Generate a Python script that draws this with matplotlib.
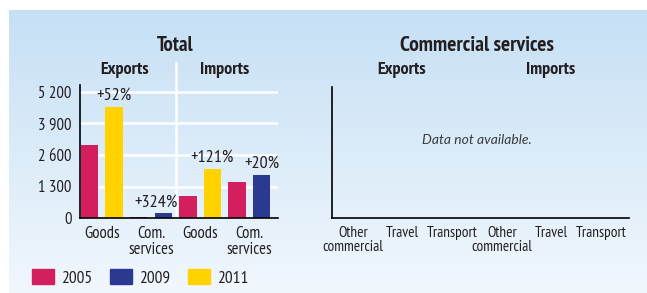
import numpy as np
import matplotlib
matplotlib.use("Agg")
from matplotlib import pyplot as plt
from matplotlib.patches import Patch

plt.rcParams['font.family'] = ['PT Sans Narrow', 'DejaVu Sans']

# data
groups = ['Goods', 'Com.\nservices', 'Goods', 'Com.\nservices']
first_year = ['2005', '2005', '2005', '2005']
second_year = ['2011', '2009', '2011', '2009']
first_vals = [3000, 45, 920, 1490]
second_vals = [4600, 190, 2030, 1790]
change_labels = ['+52%', '+324%', '+121%', '+20%']
y_ticks = [0, 1300, 2600, 3900, 5200]
y_tick_labels = ['0', '1 300', '2 600', '3 900', '5 200']
cs_categories = ['Other\ncommercial', 'Travel', 'Transport',
                 'Other\ncommercial', 'Travel', 'Transport']

year_colors = {'2005': '#d31f5e', '2009': '#2b3990', '2011': '#ffd200'}
txt = '#231f20'

W, H = 647, 293
fig = plt.figure(figsize=(W / 100, H / 100), dpi=100)


def fx(px): return px / W
def fy(py): return 1 - py / H


# background gradient panel
bg = fig.add_axes([fx(9), 0, fx(W - 9), fy(10)], zorder=-10)
grad = np.linspace(0, 1, 256)[:, None]
top = np.array([0.776, 0.878, 0.961])
bot = np.array([0.945, 0.969, 0.992])
img = top[None, None, :] * (1 - grad[..., None]) + bot[None, None, :] * grad[..., None]
bg.imshow(img, aspect='auto', extent=[0, 1, 0, 1])
bg.axis('off')

# ---------------- Total panel ----------------
ax = fig.add_axes([fx(80), fy(218), fx(278 - 80), fy(85) - fy(218)])
ax.patch.set_alpha(0)
pitch = 24.6
ymax = 5200 * (218 - 85) / 126
ax.set_ylim(0, ymax)
ax.set_xlim(-9.5 / pitch, -9.5 / pitch + 198 / pitch)
w = 17.5 / pitch
for i in range(4):
    x1, x2 = 2 * i, 2 * i + 1
    ax.bar(x1, first_vals[i], width=w, color=year_colors[first_year[i]], zorder=3)
    ax.bar(x2, second_vals[i], width=w, color=year_colors[second_year[i]], zorder=3)
    dx = -5 if i == 1 else 0
    ax.annotate(change_labels[i], (x2, max(first_vals[i], second_vals[i])),
                xytext=(dx, 2), textcoords='offset points', ha='center',
                va='bottom', fontsize=13, color=txt)
for t in y_ticks[1:]:
    ax.axhline(t, color='white', lw=1.8, zorder=1)
ax.plot([3.5, 3.5], [0, 5200 * (218 - 63) / 126], color='white', lw=1.8,
        clip_on=False, zorder=1)
ax.set_yticks(y_ticks)
ax.set_yticklabels(y_tick_labels, fontsize=12, color=txt)
ax.set_xticks([0.5, 2.5, 4.5, 6.5])
ax.set_xticklabels(groups, fontsize=12, color=txt, linespacing=0.95)
ax.tick_params(length=0, pad=6)
ax.tick_params(axis='x', pad=6)
for s in ['top', 'right']:
    ax.spines[s].set_visible(False)
for s in ['left', 'bottom']:
    ax.spines[s].set_linewidth(1.2)
    ax.spines[s].set_zorder(4)

fig.text(fx(175), fy(45), 'Total', ha='center', va='center',
         fontsize=15, fontweight='bold', color=txt)
fig.text(fx(125), fy(70), 'Exports', ha='center', va='center',
         fontsize=13, fontweight='bold', color=txt)
fig.text(fx(225), fy(70), 'Imports', ha='center', va='center',
         fontsize=13, fontweight='bold', color=txt)

# ---------------- Commercial services panel ----------------
ax2 = fig.add_axes([fx(332), fy(218), fx(629 - 332), fy(87) - fy(218)])
ax2.patch.set_alpha(0)
p2 = 49.6
ax2.set_xlim(-21 / p2, -21 / p2 + 297 / p2)
ax2.set_ylim(0, 1)
ax2.set_yticks([])
ax2.set_xticks(range(len(cs_categories)))
ax2.set_xticklabels(cs_categories, fontsize=11, color=txt, linespacing=0.95)
ax2.tick_params(length=0, pad=6)
for s in ['top', 'right']:
    ax2.spines[s].set_visible(False)
for s in ['left', 'bottom']:
    ax2.spines[s].set_linewidth(1.2)
ax2.text(0.488, 0.595, 'Data not available.', transform=ax2.transAxes,
         ha='center', va='center', fontsize=10, style='italic', color='#3a3a3a',
         family='Lato')

fig.text(fx(477), fy(45), 'Commercial services', ha='center', va='center',
         fontsize=15.5, fontweight='bold', color=txt)
fig.text(fx(402), fy(70), 'Exports', ha='center', va='center',
         fontsize=13, fontweight='bold', color=txt)
fig.text(fx(551), fy(70), 'Imports', ha='center', va='center',
         fontsize=13, fontweight='bold', color=txt)

# legend
handles = [Patch(color=year_colors[y]) for y in ['2005', '2009', '2011']]
fig.legend(handles, ['2005', '2009', '2011'], loc='center left',
           bbox_to_anchor=(fx(32), fy(278)), ncol=3, frameon=False,
           fontsize=12.5, handlelength=1.25, handleheight=0.9,
           handletextpad=0.4, columnspacing=1.05, borderpad=0,
           borderaxespad=0, labelcolor=txt)

fig.savefig('out.png', dpi=100)
